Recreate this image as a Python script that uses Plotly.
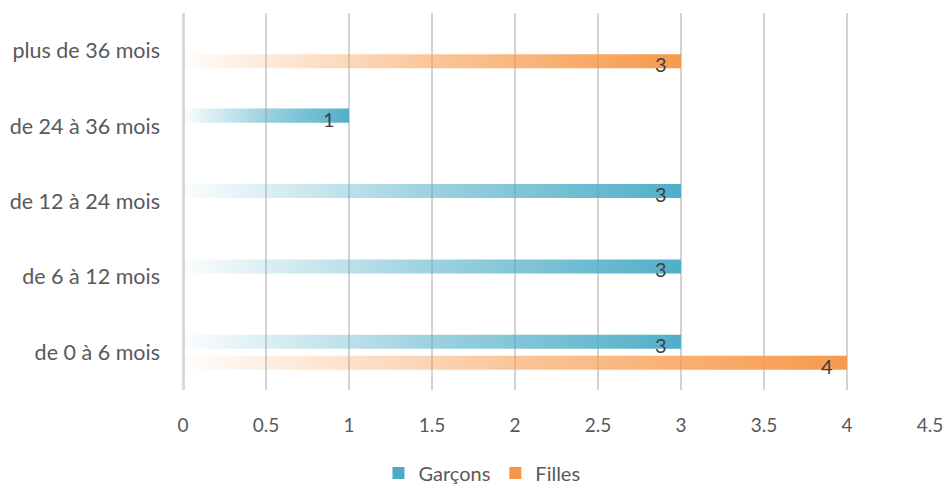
import plotly.graph_objects as go

categories = ["de 0 à 6 mois", "de 6 à 12 mois", "de 12 à 24 mois", "de 24 à 36 mois", "plus de 36 mois"]
garcons = [3, 3, 3, 1, 0]
filles = [4, 0, 0, 0, 3]
x_ticks = [0, 0.5, 1, 1.5, 2, 2.5, 3, 3.5, 4, 4.5]

series = [
    ("Garçons", garcons, (75, 172, 198), 0.139),
    ("Filles", filles, (247, 150, 70), -0.139),
]
half_h = 0.093
FONT = "Lato"

fig = go.Figure()
annotations = []
for name, vals, rgb, off in series:
    r, g, b = rgb
    for i, v in enumerate(vals):
        if v <= 0:
            continue
        yc = i + off
        fig.add_trace(go.Scatter(
            x=[0, v, v, 0, 0],
            y=[yc - half_h, yc - half_h, yc + half_h, yc + half_h, yc - half_h],
            mode="lines", line=dict(width=0),
            fill="toself",
            fillgradient=dict(type="horizontal",
                              colorscale=[[0, f"rgba({r},{g},{b},0.02)"],
                                          [0.5, f"rgba({r},{g},{b},0.55)"],
                                          [1, f"rgba({r},{g},{b},0.97)"]]),
            name=name, legendgroup=name, showlegend=False,
            hoverinfo="skip",
        ))
        annotations.append(dict(x=v, y=yc, text=str(v), showarrow=False,
                                xanchor="right", xshift=-12, yshift=-3,
                                font=dict(size=20, color="#404040", family=FONT)))
    # legend entry
    fig.add_trace(go.Scatter(
        x=[None], y=[None], mode="markers", name=name, legendgroup=name,
        marker=dict(symbol="square", size=12, color=f"rgb({r},{g},{b})"),
    ))

fig.update_layout(
    width=945, height=485,
    margin=dict(l=183, r=15, t=13, b=95),
    paper_bgcolor="white", plot_bgcolor="white",
    font=dict(family=FONT, size=19, color="#595959"),
    annotations=annotations,
    legend=dict(orientation="h", xref="container", yref="container",
                x=0.51, y=0.025, xanchor="center", yanchor="middle",
                font=dict(size=20, color="#595959"), itemwidth=30,
                tracegroupgap=0),
    xaxis=dict(range=[0, 4.5], tickvals=x_ticks, ticktext=[str(t) for t in x_ticks],
               showgrid=True, gridcolor="#d3d3d3", gridwidth=1.5,
               zeroline=True, zerolinecolor="#d9d9d9", zerolinewidth=3,
               showline=False, ticks="", ticklabelstandoff=22, automargin=False,
               tickfont=dict(size=19, color="#595959")),
    yaxis=dict(range=[-0.5, 4.5], tickvals=list(range(len(categories))), ticktext=categories,
               showgrid=False, zeroline=False, showline=False, ticks="", automargin=False,
               ticklabelstandoff=22, tickfont=dict(size=21.5, color="#595959")),
)

fig.write_html("out.html", config={"displayModeBar": False},
               post_script="document.body.style.margin='0';document.body.style.overflow='hidden';")
